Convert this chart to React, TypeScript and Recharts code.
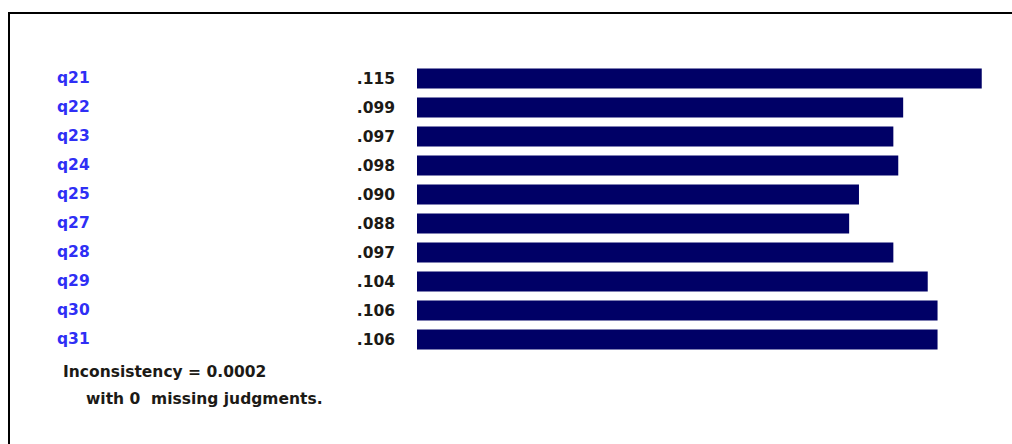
import React from 'react';
import { BarChart, Bar, XAxis, YAxis, LabelList } from 'recharts';

const ITEMS = ['q21', 'q22', 'q23', 'q24', 'q25', 'q27', 'q28', 'q29', 'q30', 'q31'];
const WEIGHTS = [0.115, 0.099, 0.097, 0.098, 0.09, 0.088, 0.097, 0.104, 0.106, 0.106];
const INCONSISTENCY = '0.0002';
const MISSING = 0;

const FONT = '"DejaVu Sans", Verdana, sans-serif';

const data = ITEMS.map((name, i) => ({ name, weight: WEIGHTS[i] }));

const fmt = (v: any) => '.' + Math.round(Number(v) * 1000).toString().padStart(3, '0');

const ItemTick = (props: any) => (
  <text
    x={49}
    y={props.y}
    dy="0.35em"
    fill="#2f2ff5"
    fontFamily={FONT}
    fontWeight="bold"
    fontSize={15.5}
  >
    {props.payload.value}
  </text>
);

const App = () => {
  // fixed so the page never scrolls (a scrollbar would eat the right edge)
  return (
    <div
      style={{
        position: 'fixed',
        left: 8,
        top: 8,
        width: 1004,
        height: 436,
        background: '#fff',
        overflow: 'hidden',
      }}
    >
      <div
        style={{
          position: 'absolute',
          left: 0,
          top: 4,
          width: 1002,
          height: 430,
          borderTop: '2px solid #000',
          borderLeft: '2px solid #000',
        }}
      />
      <BarChart
        width={1004}
        height={436}
        data={data}
        layout="vertical"
        margin={{ top: 55.5, right: 5.7, bottom: 90.5, left: 0 }}
        style={{ position: 'absolute', left: 0, top: 0 }}
      >
        <XAxis type="number" domain={[0, 0.12]} hide />
        <YAxis
          type="category"
          dataKey="name"
          width={409}
          axisLine={false}
          tickLine={false}
          interval={0}
          tick={<ItemTick />}
        />
        <Bar dataKey="weight" fill="#000066" barSize={20} isAnimationActive={false}>
          <LabelList
            dataKey="weight"
            position="left"
            offset={22}
            formatter={fmt}
            fill="#1c1a16"
            fontFamily={FONT}
            fontWeight="bold"
            fontSize={15.5}
          />
        </Bar>
      </BarChart>
      <div
        style={{
          position: 'absolute',
          left: 55,
          top: 351,
          fontFamily: FONT,
          fontWeight: 'bold',
          fontSize: 15.5,
          color: '#1c1a16',
          whiteSpace: 'pre',
          lineHeight: '27px',
        }}
      >
        <div>{`Inconsistency = ${INCONSISTENCY}`}</div>
        <div style={{ paddingLeft: 23 }}>{`with ${MISSING}  missing judgments.`}</div>
      </div>
    </div>
  );
};

export default App;
